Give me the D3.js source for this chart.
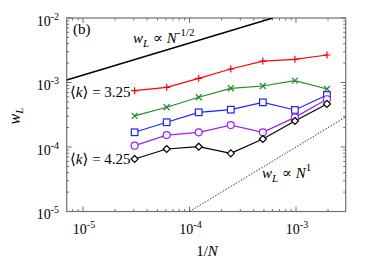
<!DOCTYPE html>
<html><head><meta charset="utf-8">
<script src="https://cdn.jsdelivr.net/npm/d3@7"></script>
<style>body{margin:0;background:#fff}svg{display:block}</style>
</head><body><svg id="c" width="374" height="262" font-family="'Liberation Serif', 'DejaVu Serif', serif"></svg>
<script>
// 1/N values (N = 2^15 ... 2^9)
const invN = [1/32768, 1/16384, 1/8192, 1/4096, 1/2048, 1/1024, 1/512];
const wRed    = [7.46e-4, 8.43e-4, 1.16e-3, 1.62e-3, 2.15e-3, 2.29e-3, 2.67e-3];
const wGreen  = [3.03e-4, 4.13e-4, 5.90e-4, 8.13e-4, 8.83e-4, 1.07e-3, 7.92e-4];
const wBlue   = [1.69e-4, 2.42e-4, 3.45e-4, 3.79e-4, 4.93e-4, 3.75e-4, 6.40e-4];
const wPurple = [1.05e-4, 1.53e-4, 1.69e-4, 2.19e-4, 1.69e-4, 2.88e-4, 5.50e-4];
const wBlack  = [6.52e-5, 9.31e-5, 1.01e-4, 7.98e-5, 1.33e-4, 2.53e-4, 4.65e-4];
const guideHalfX = [7.03e-6, 6.05e-4];
const guideHalfY = [1.09e-3, 1.0e-2];
const guideOneX = [1.0e-4, 2.93e-3];
const guideOneY = [1.0e-5, 2.93e-4];
const xTickExp = [-5, -4, -3];
const yTickExp = [-2, -3, -4, -5];

const svg = d3.select("#c");
const L = 66.7, R = 345.7, T = 18, B = 211.5;
const x = d3.scaleLog().domain([Math.pow(10,-5.1531), Math.pow(10,-2.5333)]).range([L, R]);
const y = d3.scaleLog().domain([1e-5, 1e-2]).range([B, T]);

svg.append("clipPath").attr("id","pc").append("rect")
  .attr("x",L).attr("y",T).attr("width",R-L).attr("height",B-T);

// ticks
const axisCol = "#707070";
const g = svg.append("g");
function minorList(lo, hi){ const a=[]; for(let e=lo;e<hi;e++) for(let m=1;m<10;m++) a.push(m*Math.pow(10,e)); a.push(Math.pow(10,hi)); return a; }
minorList(-6,-2).forEach(v=>{
  const px = x(v); if(px < L-0.1 || px > R+0.1) return;
  const major = Math.abs(Math.log10(v)-Math.round(Math.log10(v)))<1e-9;
  const len = major?5:2.5;
  g.append("line").attr("x1",px).attr("x2",px).attr("y1",B).attr("y2",B-len).attr("stroke",axisCol);
  g.append("line").attr("x1",px).attr("x2",px).attr("y1",T).attr("y2",T+len).attr("stroke",axisCol);
});
minorList(-5,-2).forEach(v=>{
  const py = y(v);
  const major = Math.abs(Math.log10(v)-Math.round(Math.log10(v)))<1e-9;
  const len = major?5:2.5;
  g.append("line").attr("y1",py).attr("y2",py).attr("x1",L).attr("x2",L+len).attr("stroke",axisCol);
  g.append("line").attr("y1",py).attr("y2",py).attr("x1",R).attr("x2",R-len).attr("stroke",axisCol);
});
svg.append("rect").attr("x",L).attr("y",T).attr("width",R-L).attr("height",B-T)
  .attr("fill","none").attr("stroke",axisCol).attr("stroke-width",1.2);

// tick labels
xTickExp.forEach(e=>{
  const t = svg.append("text").attr("x",x(Math.pow(10,e))+1).attr("y",234).attr("text-anchor","middle").attr("font-size",14);
  t.append("tspan").text("10");
  t.append("tspan").attr("dy",-6).attr("font-size",10).text(e);
});
yTickExp.forEach(e=>{
  const t = svg.append("text").attr("x",59).attr("y",y(Math.pow(10,e))+7.5).attr("text-anchor","end").attr("font-size",14);
  t.append("tspan").text("10");
  t.append("tspan").attr("dy",-6).attr("font-size",10).text(e);
});

// axis titles
const xl = svg.append("text").attr("x",207).attr("y",256).attr("text-anchor","middle").attr("font-size",15);
xl.append("tspan").text("1/");
xl.append("tspan").attr("font-style","italic").text("N");
const yl = svg.append("text").attr("transform","translate(20,116) rotate(-90)").attr("text-anchor","middle").attr("font-size",16);
yl.append("tspan").attr("font-style","italic").text("w");
yl.append("tspan").attr("font-style","italic").attr("font-size",11).attr("dy",3).text("L");

// guide lines
const pg = svg.append("g").attr("clip-path","url(#pc)");
const ln = d3.line().x(d=>x(d[0])).y(d=>y(d[1]));
pg.append("path").attr("d", ln(d3.zip(guideHalfX, guideHalfY))).attr("stroke","#000").attr("stroke-width",1.5).attr("fill","none");
pg.append("path").attr("d", ln(d3.zip(guideOneX, guideOneY))).attr("stroke","#000").attr("stroke-width",0.8).attr("stroke-dasharray","1.5,1.5").attr("fill","none");

// series
const series = [
  {v:wRed, c:"#ff0000", m:"plus"},
  {v:wGreen, c:"#228b22", m:"cross"},
  {v:wBlue, c:"#2020ff", m:"square"},
  {v:wPurple, c:"#a020f0", m:"circle"},
  {v:wBlack, c:"#000000", m:"diamond"}
];
series.forEach(s=>{
  const pts = d3.zip(invN, s.v);
  pg.append("path").attr("d", ln(pts)).attr("stroke",s.c).attr("stroke-width",1.2).attr("fill","none");
  const mg = svg.append("g").attr("stroke",s.c).attr("stroke-width",1.2).attr("fill","none");
  pts.forEach(p=>{
    const px = x(p[0]), py = y(p[1]);
    if(s.m==="plus"){ mg.append("path").attr("d",`M${px-3.5},${py}H${px+3.5}M${px},${py-3.5}V${py+3.5}`); }
    else if(s.m==="cross"){ mg.append("path").attr("d",`M${px-3},${py-3}L${px+3},${py+3}M${px-3},${py+3}L${px+3},${py-3}`); }
    else if(s.m==="square"){ mg.append("rect").attr("x",px-3.3).attr("y",py-3.3).attr("width",6.6).attr("height",6.6).attr("fill","#fff"); }
    else if(s.m==="circle"){ mg.append("circle").attr("cx",px).attr("cy",py).attr("r",3.5).attr("fill","#fff"); }
    else { mg.append("path").attr("d",`M${px},${py-3.5}L${px+3.5},${py}L${px},${py+3.5}L${px-3.5},${py}Z`).attr("fill","#fff"); }
  });
});

// annotations
svg.append("text").attr("x",73).attr("y",34).attr("font-size",15).text("(b)");
function prop(xp, yp, exp){
  const t = svg.append("text").attr("x",xp).attr("y",yp).attr("font-size",15);
  t.append("tspan").attr("font-style","italic").text("w");
  t.append("tspan").attr("font-style","italic").attr("font-size",11).attr("dy",4).text("L");
  t.append("tspan").attr("dy",-4).text(" \u221d ");
  t.append("tspan").attr("font-style","italic").text("N");
  t.append("tspan").attr("dy",-7).attr("font-size",11).text(exp);
}
prop(133, 43, "-1/2");
prop(262, 178, "1");
function kLabel(yp, val){
  const t = svg.append("text").attr("x",70).attr("y",yp).attr("font-size",15);
  t.append("tspan").text("\u27e8");
  t.append("tspan").attr("font-style","italic").text("k");
  t.append("tspan").text("\u27e9 = " + val);
}
kLabel(97, "3.25");
kLabel(164, "4.25");
</script></body></html>
